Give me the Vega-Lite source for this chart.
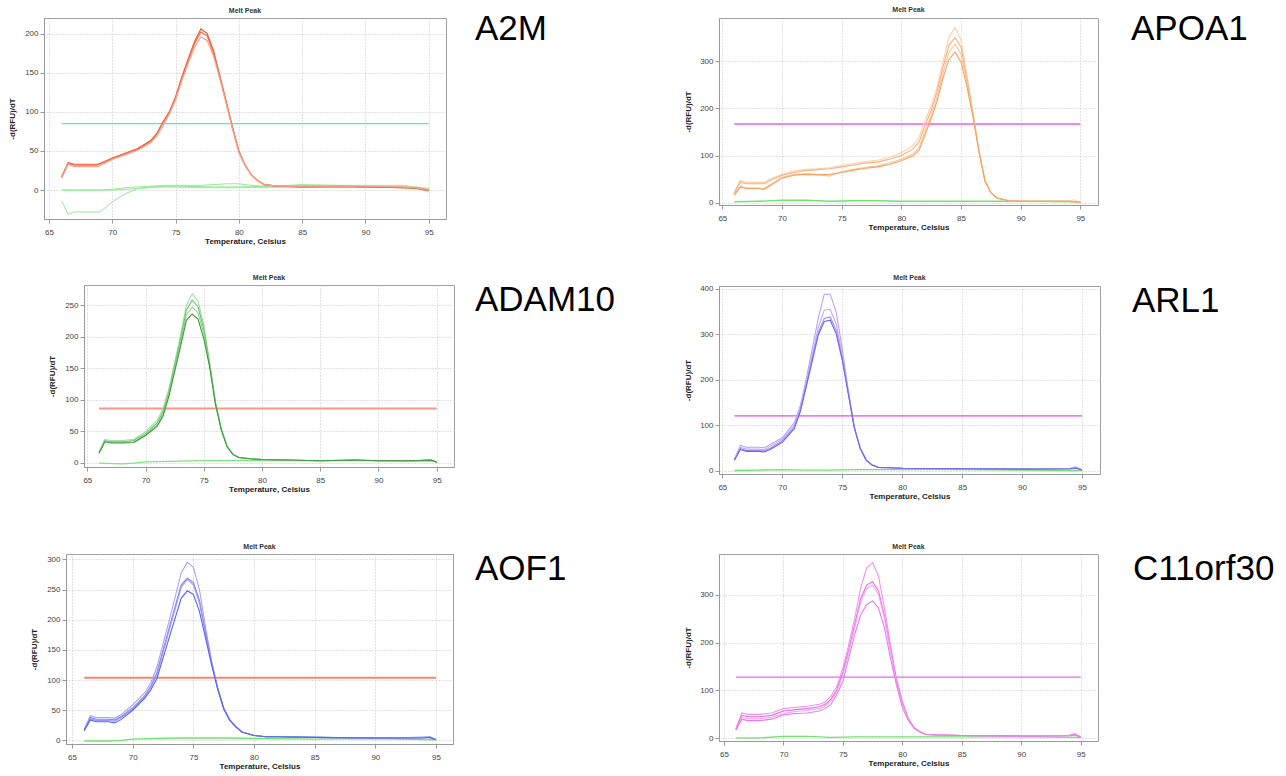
{
  "$schema": "https://vega.github.io/schema/vega-lite/v6.json",
  "padding": {"left": 0, "top": 5, "right": 0, "bottom": 0},
  "background": "white",
  "config": {
    "font": "Liberation Sans",
    "view": {"stroke": "#a0a0a0", "strokeWidth": 1},
    "title": {"fontSize": 7, "fontWeight": "bold", "color": "#333333", "offset": 4},
    "axis": {
      "labelFontSize": 8, "labelColor": "#444444", "titleFontSize": 8, "titleFontWeight": "bold",
      "titleColor": "#222222", "domainColor": "#999999", "tickColor": "#999999", "tickSize": 4,
      "gridColor": "#c4c4c4", "gridDash": [1, 2], "labelPadding": 2
    },
    "axisX": {"labelPadding": 5, "titlePadding": 1}
  },
  "datasets": {
    "A2M": [
      {"s":"a","t":66,"v":17},{"s":"a","t":66.5,"v":35},{"s":"a","t":67,"v":33},{"s":"a","t":68,"v":33},{"s":"a","t":68.8,"v":33},{"s":"a","t":69,"v":34},{"s":"a","t":70,"v":41},{"s":"a","t":71,"v":47},{"s":"a","t":72,"v":53},{"s":"a","t":73,"v":63},{"s":"a","t":73.5,"v":72},{"s":"a","t":74,"v":87},{"s":"a","t":74.5,"v":100},{"s":"a","t":75,"v":119},{"s":"a","t":75.5,"v":145},{"s":"a","t":76,"v":168},{"s":"a","t":76.5,"v":190},{"s":"a","t":77,"v":206},{"s":"a","t":77.5,"v":200},{"s":"a","t":78,"v":178},{"s":"a","t":78.5,"v":146},{"s":"a","t":79,"v":113},{"s":"a","t":79.5,"v":80},{"s":"a","t":80,"v":50},{"s":"a","t":80.5,"v":32},{"s":"a","t":81,"v":19},{"s":"a","t":81.5,"v":12},{"s":"a","t":82,"v":7},{"s":"a","t":83,"v":5},{"s":"a","t":85,"v":4},{"s":"a","t":88,"v":4},{"s":"a","t":90,"v":4},{"s":"a","t":93,"v":3},{"s":"a","t":94,"v":2},{"s":"a","t":95,"v":-1},
      {"s":"b","t":66,"v":16},{"s":"b","t":66.5,"v":34},{"s":"b","t":67,"v":32},{"s":"b","t":68,"v":32},{"s":"b","t":68.8,"v":32},{"s":"b","t":69,"v":33},{"s":"b","t":70,"v":40},{"s":"b","t":71,"v":46},{"s":"b","t":72,"v":52},{"s":"b","t":73,"v":62},{"s":"b","t":73.5,"v":71},{"s":"b","t":74,"v":86},{"s":"b","t":74.5,"v":99},{"s":"b","t":75,"v":118},{"s":"b","t":75.5,"v":143},{"s":"b","t":76,"v":166},{"s":"b","t":76.5,"v":187},{"s":"b","t":77,"v":202},{"s":"b","t":77.5,"v":197},{"s":"b","t":78,"v":175},{"s":"b","t":78.5,"v":144},{"s":"b","t":79,"v":112},{"s":"b","t":79.5,"v":79},{"s":"b","t":80,"v":49},{"s":"b","t":80.5,"v":31},{"s":"b","t":81,"v":19},{"s":"b","t":81.5,"v":12},{"s":"b","t":82,"v":7},{"s":"b","t":83,"v":5},{"s":"b","t":85,"v":4},{"s":"b","t":88,"v":5},{"s":"b","t":90,"v":4},{"s":"b","t":93,"v":3},{"s":"b","t":94,"v":3},{"s":"b","t":95,"v":0},
      {"s":"c","t":66,"v":15},{"s":"c","t":66.5,"v":33},{"s":"c","t":67,"v":30},{"s":"c","t":68,"v":30},{"s":"c","t":68.8,"v":30},{"s":"c","t":69,"v":31},{"s":"c","t":70,"v":39},{"s":"c","t":71,"v":45},{"s":"c","t":72,"v":51},{"s":"c","t":73,"v":60},{"s":"c","t":73.5,"v":69},{"s":"c","t":74,"v":82},{"s":"c","t":74.5,"v":97},{"s":"c","t":75,"v":115},{"s":"c","t":75.5,"v":140},{"s":"c","t":76,"v":162},{"s":"c","t":76.5,"v":183},{"s":"c","t":77,"v":196},{"s":"c","t":77.5,"v":191},{"s":"c","t":78,"v":171},{"s":"c","t":78.5,"v":142},{"s":"c","t":79,"v":110},{"s":"c","t":79.5,"v":78},{"s":"c","t":80,"v":48},{"s":"c","t":80.5,"v":31},{"s":"c","t":81,"v":19},{"s":"c","t":81.5,"v":12},{"s":"c","t":82,"v":7},{"s":"c","t":83,"v":5},{"s":"c","t":85,"v":5},{"s":"c","t":88,"v":5},{"s":"c","t":90,"v":5},{"s":"c","t":93,"v":4},{"s":"c","t":94,"v":3},{"s":"c","t":95,"v":0},
      {"s":"g1","t":66,"v":0},{"s":"g1","t":67,"v":0},{"s":"g1","t":69,"v":0},{"s":"g1","t":70,"v":1},{"s":"g1","t":71,"v":3},{"s":"g1","t":72,"v":4},{"s":"g1","t":73,"v":5},{"s":"g1","t":74,"v":6},{"s":"g1","t":76,"v":6},{"s":"g1","t":77,"v":6},{"s":"g1","t":78,"v":7},{"s":"g1","t":79,"v":8},{"s":"g1","t":80,"v":8},{"s":"g1","t":81,"v":6},{"s":"g1","t":82,"v":5},{"s":"g1","t":85,"v":6},{"s":"g1","t":88,"v":5},{"s":"g1","t":90,"v":4},{"s":"g1","t":93,"v":4},{"s":"g1","t":95,"v":1},
      {"s":"g2","t":66,"v":-14},{"s":"g2","t":66.5,"v":-31},{"s":"g2","t":67,"v":-28},{"s":"g2","t":68,"v":-28},{"s":"g2","t":69,"v":-28},{"s":"g2","t":69.5,"v":-22},{"s":"g2","t":70,"v":-15},{"s":"g2","t":71,"v":-5},{"s":"g2","t":72,"v":2},{"s":"g2","t":73,"v":4},{"s":"g2","t":75,"v":5},{"s":"g2","t":78,"v":4},{"s":"g2","t":80,"v":4},{"s":"g2","t":83,"v":5},{"s":"g2","t":85,"v":7},{"s":"g2","t":88,"v":6},{"s":"g2","t":91,"v":6},{"s":"g2","t":93,"v":6},{"s":"g2","t":94,"v":4},{"s":"g2","t":95,"v":2},
      {"s":"g3","t":66,"v":0},{"s":"g3","t":70,"v":0},{"s":"g3","t":74,"v":4},{"s":"g3","t":78,"v":3},{"s":"g3","t":80,"v":3},{"s":"g3","t":85,"v":4},{"s":"g3","t":90,"v":4},{"s":"g3","t":95,"v":2},
      {"s":"th","t":66,"t2":95,"v":85}
    ],
    "APOA1": [
      {"s":"a","t":66,"v":22},{"s":"a","t":66.5,"v":47},{"s":"a","t":67,"v":43},{"s":"a","t":68,"v":43},{"s":"a","t":68.5,"v":43},{"s":"a","t":69,"v":50},{"s":"a","t":70,"v":60},{"s":"a","t":71,"v":67},{"s":"a","t":72,"v":71},{"s":"a","t":73,"v":72},{"s":"a","t":74,"v":74},{"s":"a","t":75,"v":79},{"s":"a","t":76,"v":83},{"s":"a","t":77,"v":87},{"s":"a","t":78,"v":90},{"s":"a","t":79,"v":96},{"s":"a","t":80,"v":106},{"s":"a","t":81,"v":122},{"s":"a","t":81.5,"v":140},{"s":"a","t":82,"v":175},{"s":"a","t":82.5,"v":205},{"s":"a","t":83,"v":245},{"s":"a","t":83.5,"v":300},{"s":"a","t":84,"v":352},{"s":"a","t":84.5,"v":372},{"s":"a","t":85,"v":345},{"s":"a","t":85.5,"v":270},{"s":"a","t":86,"v":192},{"s":"a","t":86.5,"v":112},{"s":"a","t":87,"v":48},{"s":"a","t":87.5,"v":22},{"s":"a","t":88,"v":10},{"s":"a","t":89,"v":4},{"s":"a","t":90,"v":3},{"s":"a","t":92,"v":3},{"s":"a","t":94,"v":4},{"s":"a","t":94.5,"v":6},{"s":"a","t":95,"v":0},
      {"s":"b","t":66,"v":20},{"s":"b","t":66.5,"v":44},{"s":"b","t":67,"v":40},{"s":"b","t":68,"v":40},{"s":"b","t":68.5,"v":40},{"s":"b","t":69,"v":47},{"s":"b","t":70,"v":58},{"s":"b","t":71,"v":64},{"s":"b","t":72,"v":68},{"s":"b","t":73,"v":70},{"s":"b","t":74,"v":72},{"s":"b","t":75,"v":76},{"s":"b","t":76,"v":80},{"s":"b","t":77,"v":84},{"s":"b","t":78,"v":86},{"s":"b","t":79,"v":92},{"s":"b","t":80,"v":100},{"s":"b","t":81,"v":114},{"s":"b","t":81.5,"v":130},{"s":"b","t":82,"v":165},{"s":"b","t":82.5,"v":196},{"s":"b","t":83,"v":236},{"s":"b","t":83.5,"v":288},{"s":"b","t":84,"v":335},{"s":"b","t":84.5,"v":350},{"s":"b","t":85,"v":330},{"s":"b","t":85.5,"v":262},{"s":"b","t":86,"v":190},{"s":"b","t":86.5,"v":111},{"s":"b","t":87,"v":47},{"s":"b","t":87.5,"v":21},{"s":"b","t":88,"v":10},{"s":"b","t":89,"v":4},{"s":"b","t":90,"v":3},{"s":"b","t":92,"v":3},{"s":"b","t":94,"v":3},{"s":"b","t":95,"v":0},
      {"s":"c","t":66,"v":17},{"s":"c","t":66.5,"v":35},{"s":"c","t":67,"v":31},{"s":"c","t":68,"v":31},{"s":"c","t":68.5,"v":30},{"s":"c","t":69,"v":38},{"s":"c","t":70,"v":54},{"s":"c","t":71,"v":60},{"s":"c","t":72,"v":61},{"s":"c","t":73,"v":60},{"s":"c","t":74,"v":56},{"s":"c","t":75,"v":66},{"s":"c","t":76,"v":71},{"s":"c","t":77,"v":75},{"s":"c","t":78,"v":78},{"s":"c","t":79,"v":84},{"s":"c","t":80,"v":92},{"s":"c","t":81,"v":104},{"s":"c","t":81.5,"v":118},{"s":"c","t":82,"v":152},{"s":"c","t":82.5,"v":185},{"s":"c","t":83,"v":225},{"s":"c","t":83.5,"v":276},{"s":"c","t":84,"v":320},{"s":"c","t":84.5,"v":337},{"s":"c","t":85,"v":315},{"s":"c","t":85.5,"v":255},{"s":"c","t":86,"v":186},{"s":"c","t":86.5,"v":110},{"s":"c","t":87,"v":47},{"s":"c","t":87.5,"v":21},{"s":"c","t":88,"v":10},{"s":"c","t":89,"v":4},{"s":"c","t":90,"v":3},{"s":"c","t":92,"v":3},{"s":"c","t":94,"v":3},{"s":"c","t":95,"v":1},
      {"s":"d","t":66,"v":16},{"s":"d","t":66.5,"v":33},{"s":"d","t":67,"v":30},{"s":"d","t":68,"v":30},{"s":"d","t":68.5,"v":28},{"s":"d","t":69,"v":36},{"s":"d","t":70,"v":52},{"s":"d","t":71,"v":58},{"s":"d","t":72,"v":60},{"s":"d","t":73,"v":59},{"s":"d","t":74,"v":60},{"s":"d","t":75,"v":64},{"s":"d","t":76,"v":69},{"s":"d","t":77,"v":73},{"s":"d","t":78,"v":76},{"s":"d","t":79,"v":81},{"s":"d","t":80,"v":89},{"s":"d","t":81,"v":100},{"s":"d","t":81.5,"v":112},{"s":"d","t":82,"v":145},{"s":"d","t":82.5,"v":178},{"s":"d","t":83,"v":216},{"s":"d","t":83.5,"v":265},{"s":"d","t":84,"v":304},{"s":"d","t":84.5,"v":320},{"s":"d","t":85,"v":298},{"s":"d","t":85.5,"v":246},{"s":"d","t":86,"v":182},{"s":"d","t":86.5,"v":108},{"s":"d","t":87,"v":46},{"s":"d","t":87.5,"v":21},{"s":"d","t":88,"v":10},{"s":"d","t":89,"v":4},{"s":"d","t":90,"v":3},{"s":"d","t":92,"v":3},{"s":"d","t":94,"v":3},{"s":"d","t":95,"v":1},
      {"s":"g1","t":66,"v":2},{"s":"g1","t":68,"v":3},{"s":"g1","t":70,"v":5},{"s":"g1","t":72,"v":5},{"s":"g1","t":74,"v":3},{"s":"g1","t":76,"v":4},{"s":"g1","t":78,"v":4},{"s":"g1","t":80,"v":3},{"s":"g1","t":85,"v":3},{"s":"g1","t":90,"v":3},{"s":"g1","t":95,"v":2},
      {"s":"th","t":66,"t2":95,"v":167}
    ],
    "ADAM10": [
      {"s":"a","t":66,"v":17},{"s":"a","t":66.5,"v":37},{"s":"a","t":67,"v":35},{"s":"a","t":68,"v":35},{"s":"a","t":69,"v":37},{"s":"a","t":70,"v":49},{"s":"a","t":71,"v":67},{"s":"a","t":71.5,"v":86},{"s":"a","t":72,"v":117},{"s":"a","t":73,"v":202},{"s":"a","t":73.5,"v":250},{"s":"a","t":74,"v":268},{"s":"a","t":74.5,"v":257},{"s":"a","t":75,"v":218},{"s":"a","t":75.5,"v":160},{"s":"a","t":76,"v":96},{"s":"a","t":76.5,"v":54},{"s":"a","t":77,"v":26},{"s":"a","t":77.5,"v":13},{"s":"a","t":78,"v":8},{"s":"a","t":79,"v":6},{"s":"a","t":80,"v":5},{"s":"a","t":82,"v":4},{"s":"a","t":85,"v":3},{"s":"a","t":88,"v":4},{"s":"a","t":90,"v":3},{"s":"a","t":93,"v":3},{"s":"a","t":94.5,"v":5},{"s":"a","t":95,"v":0},
      {"s":"b","t":66,"v":16},{"s":"b","t":66.5,"v":35},{"s":"b","t":67,"v":33},{"s":"b","t":68,"v":33},{"s":"b","t":69,"v":35},{"s":"b","t":70,"v":46},{"s":"b","t":71,"v":63},{"s":"b","t":71.5,"v":81},{"s":"b","t":72,"v":112},{"s":"b","t":73,"v":196},{"s":"b","t":73.5,"v":242},{"s":"b","t":74,"v":258},{"s":"b","t":74.5,"v":248},{"s":"b","t":75,"v":212},{"s":"b","t":75.5,"v":157},{"s":"b","t":76,"v":95},{"s":"b","t":76.5,"v":53},{"s":"b","t":77,"v":26},{"s":"b","t":77.5,"v":13},{"s":"b","t":78,"v":8},{"s":"b","t":79,"v":6},{"s":"b","t":80,"v":5},{"s":"b","t":82,"v":4},{"s":"b","t":85,"v":3},{"s":"b","t":88,"v":4},{"s":"b","t":90,"v":3},{"s":"b","t":93,"v":3},{"s":"b","t":94.5,"v":4},{"s":"b","t":95,"v":0},
      {"s":"c","t":66,"v":15},{"s":"c","t":66.5,"v":33},{"s":"c","t":67,"v":32},{"s":"c","t":68,"v":32},{"s":"c","t":69,"v":33},{"s":"c","t":70,"v":44},{"s":"c","t":71,"v":60},{"s":"c","t":71.5,"v":77},{"s":"c","t":72,"v":108},{"s":"c","t":73,"v":190},{"s":"c","t":73.5,"v":234},{"s":"c","t":74,"v":247},{"s":"c","t":74.5,"v":238},{"s":"c","t":75,"v":205},{"s":"c","t":75.5,"v":155},{"s":"c","t":76,"v":94},{"s":"c","t":76.5,"v":53},{"s":"c","t":77,"v":26},{"s":"c","t":77.5,"v":13},{"s":"c","t":78,"v":8},{"s":"c","t":79,"v":6},{"s":"c","t":80,"v":5},{"s":"c","t":82,"v":4},{"s":"c","t":85,"v":3},{"s":"c","t":88,"v":4},{"s":"c","t":90,"v":3},{"s":"c","t":93,"v":3},{"s":"c","t":94.5,"v":4},{"s":"c","t":95,"v":1},
      {"s":"d","t":66,"v":15},{"s":"d","t":66.5,"v":33},{"s":"d","t":67,"v":31},{"s":"d","t":68,"v":31},{"s":"d","t":69,"v":32},{"s":"d","t":70,"v":43},{"s":"d","t":71,"v":58},{"s":"d","t":71.5,"v":74},{"s":"d","t":72,"v":105},{"s":"d","t":73,"v":184},{"s":"d","t":73.5,"v":226},{"s":"d","t":74,"v":236},{"s":"d","t":74.5,"v":228},{"s":"d","t":75,"v":197},{"s":"d","t":75.5,"v":152},{"s":"d","t":76,"v":93},{"s":"d","t":76.5,"v":52},{"s":"d","t":77,"v":25},{"s":"d","t":77.5,"v":13},{"s":"d","t":78,"v":8},{"s":"d","t":79,"v":6},{"s":"d","t":80,"v":5},{"s":"d","t":82,"v":4},{"s":"d","t":85,"v":3},{"s":"d","t":88,"v":4},{"s":"d","t":90,"v":3},{"s":"d","t":93,"v":3},{"s":"d","t":94.5,"v":4},{"s":"d","t":95,"v":1},
      {"s":"g1","t":66,"v":-1},{"s":"g1","t":68,"v":-2},{"s":"g1","t":69,"v":-1},{"s":"g1","t":70,"v":1},{"s":"g1","t":72,"v":2},{"s":"g1","t":75,"v":3},{"s":"g1","t":78,"v":3},{"s":"g1","t":80,"v":3},{"s":"g1","t":85,"v":3},{"s":"g1","t":90,"v":3},{"s":"g1","t":95,"v":2},
      {"s":"th","t":66,"t2":95,"v":86}
    ],
    "ARL1": [
      {"s":"a","t":66,"v":26},{"s":"a","t":66.5,"v":56},{"s":"a","t":67,"v":52},{"s":"a","t":68,"v":52},{"s":"a","t":68.5,"v":51},{"s":"a","t":69,"v":58},{"s":"a","t":70,"v":73},{"s":"a","t":71,"v":106},{"s":"a","t":71.5,"v":143},{"s":"a","t":72,"v":202},{"s":"a","t":73,"v":335},{"s":"a","t":73.5,"v":388},{"s":"a","t":74,"v":388},{"s":"a","t":74.5,"v":348},{"s":"a","t":75,"v":268},{"s":"a","t":75.5,"v":178},{"s":"a","t":76,"v":98},{"s":"a","t":76.5,"v":50},{"s":"a","t":77,"v":24},{"s":"a","t":77.5,"v":13},{"s":"a","t":78,"v":8},{"s":"a","t":79,"v":7},{"s":"a","t":80,"v":6},{"s":"a","t":85,"v":5},{"s":"a","t":90,"v":4},{"s":"a","t":94,"v":6},{"s":"a","t":94.5,"v":9},{"s":"a","t":95,"v":3},
      {"s":"b","t":66,"v":25},{"s":"b","t":66.5,"v":52},{"s":"b","t":67,"v":48},{"s":"b","t":68,"v":48},{"s":"b","t":68.5,"v":47},{"s":"b","t":69,"v":54},{"s":"b","t":70,"v":69},{"s":"b","t":71,"v":100},{"s":"b","t":71.5,"v":137},{"s":"b","t":72,"v":194},{"s":"b","t":73,"v":315},{"s":"b","t":73.5,"v":353},{"s":"b","t":74,"v":355},{"s":"b","t":74.5,"v":322},{"s":"b","t":75,"v":255},{"s":"b","t":75.5,"v":174},{"s":"b","t":76,"v":97},{"s":"b","t":76.5,"v":50},{"s":"b","t":77,"v":24},{"s":"b","t":77.5,"v":13},{"s":"b","t":78,"v":8},{"s":"b","t":79,"v":7},{"s":"b","t":80,"v":6},{"s":"b","t":85,"v":5},{"s":"b","t":90,"v":4},{"s":"b","t":94,"v":5},{"s":"b","t":94.5,"v":7},{"s":"b","t":95,"v":2},
      {"s":"c","t":66,"v":24},{"s":"c","t":66.5,"v":49},{"s":"c","t":67,"v":45},{"s":"c","t":68,"v":45},{"s":"c","t":68.5,"v":44},{"s":"c","t":69,"v":50},{"s":"c","t":70,"v":66},{"s":"c","t":71,"v":96},{"s":"c","t":71.5,"v":133},{"s":"c","t":72,"v":189},{"s":"c","t":73,"v":304},{"s":"c","t":73.5,"v":335},{"s":"c","t":74,"v":338},{"s":"c","t":74.5,"v":308},{"s":"c","t":75,"v":248},{"s":"c","t":75.5,"v":172},{"s":"c","t":76,"v":96},{"s":"c","t":76.5,"v":50},{"s":"c","t":77,"v":24},{"s":"c","t":77.5,"v":13},{"s":"c","t":78,"v":8},{"s":"c","t":79,"v":7},{"s":"c","t":80,"v":6},{"s":"c","t":85,"v":5},{"s":"c","t":90,"v":4},{"s":"c","t":94,"v":5},{"s":"c","t":94.5,"v":7},{"s":"c","t":95,"v":2},
      {"s":"d","t":66,"v":23},{"s":"d","t":66.5,"v":47},{"s":"d","t":67,"v":43},{"s":"d","t":68,"v":43},{"s":"d","t":68.5,"v":42},{"s":"d","t":69,"v":47},{"s":"d","t":70,"v":63},{"s":"d","t":71,"v":93},{"s":"d","t":71.5,"v":130},{"s":"d","t":72,"v":185},{"s":"d","t":73,"v":298},{"s":"d","t":73.5,"v":328},{"s":"d","t":74,"v":331},{"s":"d","t":74.5,"v":301},{"s":"d","t":75,"v":243},{"s":"d","t":75.5,"v":170},{"s":"d","t":76,"v":95},{"s":"d","t":76.5,"v":49},{"s":"d","t":77,"v":24},{"s":"d","t":77.5,"v":13},{"s":"d","t":78,"v":8},{"s":"d","t":79,"v":7},{"s":"d","t":80,"v":6},{"s":"d","t":85,"v":5},{"s":"d","t":90,"v":4},{"s":"d","t":94,"v":5},{"s":"d","t":94.5,"v":6},{"s":"d","t":95,"v":2},
      {"s":"g1","t":66,"v":1},{"s":"g1","t":68,"v":2},{"s":"g1","t":70,"v":3},{"s":"g1","t":72,"v":2},{"s":"g1","t":74,"v":2},{"s":"g1","t":76,"v":3},{"s":"g1","t":80,"v":3},{"s":"g1","t":85,"v":3},{"s":"g1","t":90,"v":2},{"s":"g1","t":95,"v":1},
      {"s":"th","t":66,"t2":95,"v":121}
    ],
    "AOF1": [
      {"s":"a","t":66,"v":18},{"s":"a","t":66.5,"v":41},{"s":"a","t":67,"v":38},{"s":"a","t":68,"v":38},{"s":"a","t":68.5,"v":37},{"s":"a","t":69,"v":42},{"s":"a","t":70,"v":59},{"s":"a","t":71,"v":79},{"s":"a","t":71.5,"v":96},{"s":"a","t":72,"v":122},{"s":"a","t":73,"v":198},{"s":"a","t":74,"v":278},{"s":"a","t":74.5,"v":295},{"s":"a","t":75,"v":287},{"s":"a","t":75.5,"v":250},{"s":"a","t":76,"v":188},{"s":"a","t":76.5,"v":132},{"s":"a","t":77,"v":88},{"s":"a","t":77.5,"v":54},{"s":"a","t":78,"v":34},{"s":"a","t":78.5,"v":23},{"s":"a","t":79,"v":14},{"s":"a","t":80,"v":8},{"s":"a","t":81,"v":6},{"s":"a","t":82,"v":6},{"s":"a","t":85,"v":5},{"s":"a","t":90,"v":4},{"s":"a","t":94,"v":5},{"s":"a","t":94.5,"v":6},{"s":"a","t":95,"v":1},
      {"s":"b","t":66,"v":17},{"s":"b","t":66.5,"v":38},{"s":"b","t":67,"v":35},{"s":"b","t":68,"v":35},{"s":"b","t":68.5,"v":34},{"s":"b","t":69,"v":39},{"s":"b","t":70,"v":54},{"s":"b","t":71,"v":74},{"s":"b","t":71.5,"v":90},{"s":"b","t":72,"v":113},{"s":"b","t":73,"v":186},{"s":"b","t":74,"v":258},{"s":"b","t":74.5,"v":269},{"s":"b","t":75,"v":262},{"s":"b","t":75.5,"v":232},{"s":"b","t":76,"v":180},{"s":"b","t":76.5,"v":129},{"s":"b","t":77,"v":87},{"s":"b","t":77.5,"v":53},{"s":"b","t":78,"v":34},{"s":"b","t":78.5,"v":23},{"s":"b","t":79,"v":14},{"s":"b","t":80,"v":8},{"s":"b","t":81,"v":6},{"s":"b","t":82,"v":6},{"s":"b","t":85,"v":5},{"s":"b","t":90,"v":4},{"s":"b","t":94,"v":5},{"s":"b","t":94.5,"v":5},{"s":"b","t":95,"v":1},
      {"s":"c","t":66,"v":16},{"s":"c","t":66.5,"v":36},{"s":"c","t":67,"v":33},{"s":"c","t":68,"v":33},{"s":"c","t":68.5,"v":32},{"s":"c","t":69,"v":37},{"s":"c","t":70,"v":52},{"s":"c","t":71,"v":72},{"s":"c","t":71.5,"v":88},{"s":"c","t":72,"v":110},{"s":"c","t":73,"v":182},{"s":"c","t":74,"v":254},{"s":"c","t":74.5,"v":267},{"s":"c","t":75,"v":258},{"s":"c","t":75.5,"v":228},{"s":"c","t":76,"v":177},{"s":"c","t":76.5,"v":128},{"s":"c","t":77,"v":86},{"s":"c","t":77.5,"v":53},{"s":"c","t":78,"v":34},{"s":"c","t":78.5,"v":23},{"s":"c","t":79,"v":14},{"s":"c","t":80,"v":8},{"s":"c","t":81,"v":6},{"s":"c","t":82,"v":6},{"s":"c","t":85,"v":5},{"s":"c","t":90,"v":4},{"s":"c","t":94,"v":5},{"s":"c","t":94.5,"v":5},{"s":"c","t":95,"v":1},
      {"s":"d","t":66,"v":16},{"s":"d","t":66.5,"v":34},{"s":"d","t":67,"v":31},{"s":"d","t":68,"v":31},{"s":"d","t":68.5,"v":29},{"s":"d","t":69,"v":34},{"s":"d","t":70,"v":50},{"s":"d","t":71,"v":70},{"s":"d","t":71.5,"v":84},{"s":"d","t":72,"v":103},{"s":"d","t":73,"v":170},{"s":"d","t":74,"v":236},{"s":"d","t":74.5,"v":248},{"s":"d","t":75,"v":242},{"s":"d","t":75.5,"v":214},{"s":"d","t":76,"v":170},{"s":"d","t":76.5,"v":125},{"s":"d","t":77,"v":85},{"s":"d","t":77.5,"v":52},{"s":"d","t":78,"v":33},{"s":"d","t":78.5,"v":22},{"s":"d","t":79,"v":14},{"s":"d","t":80,"v":8},{"s":"d","t":81,"v":6},{"s":"d","t":82,"v":6},{"s":"d","t":85,"v":5},{"s":"d","t":90,"v":4},{"s":"d","t":94,"v":4},{"s":"d","t":94.5,"v":5},{"s":"d","t":95,"v":1},
      {"s":"g1","t":66,"v":-1},{"s":"g1","t":68,"v":-1},{"s":"g1","t":69,"v":0},{"s":"g1","t":70,"v":2},{"s":"g1","t":72,"v":3},{"s":"g1","t":74,"v":4},{"s":"g1","t":76,"v":4},{"s":"g1","t":78,"v":4},{"s":"g1","t":80,"v":3},{"s":"g1","t":85,"v":2},{"s":"g1","t":90,"v":3},{"s":"g1","t":95,"v":1},
      {"s":"th","t":66,"t2":95,"v":104}
    ],
    "C11orf30": [
      {"s":"a","t":66,"v":20},{"s":"a","t":66.5,"v":53},{"s":"a","t":67,"v":50},{"s":"a","t":68,"v":50},{"s":"a","t":69,"v":53},{"s":"a","t":70,"v":62},{"s":"a","t":71,"v":65},{"s":"a","t":72,"v":67},{"s":"a","t":73,"v":71},{"s":"a","t":73.5,"v":76},{"s":"a","t":74,"v":88},{"s":"a","t":74.5,"v":109},{"s":"a","t":75,"v":147},{"s":"a","t":75.5,"v":196},{"s":"a","t":76,"v":251},{"s":"a","t":76.5,"v":314},{"s":"a","t":77,"v":356},{"s":"a","t":77.5,"v":367},{"s":"a","t":78,"v":338},{"s":"a","t":78.5,"v":272},{"s":"a","t":79,"v":196},{"s":"a","t":79.5,"v":126},{"s":"a","t":80,"v":78},{"s":"a","t":80.5,"v":42},{"s":"a","t":81,"v":22},{"s":"a","t":81.5,"v":13},{"s":"a","t":82,"v":8},{"s":"a","t":83,"v":7},{"s":"a","t":85,"v":6},{"s":"a","t":90,"v":5},{"s":"a","t":94,"v":6},{"s":"a","t":94.5,"v":10},{"s":"a","t":95,"v":3},
      {"s":"b","t":66,"v":19},{"s":"b","t":66.5,"v":48},{"s":"b","t":67,"v":45},{"s":"b","t":68,"v":45},{"s":"b","t":69,"v":48},{"s":"b","t":70,"v":57},{"s":"b","t":71,"v":60},{"s":"b","t":72,"v":62},{"s":"b","t":73,"v":66},{"s":"b","t":73.5,"v":71},{"s":"b","t":74,"v":82},{"s":"b","t":74.5,"v":102},{"s":"b","t":75,"v":138},{"s":"b","t":75.5,"v":186},{"s":"b","t":76,"v":238},{"s":"b","t":76.5,"v":292},{"s":"b","t":77,"v":320},{"s":"b","t":77.5,"v":327},{"s":"b","t":78,"v":308},{"s":"b","t":78.5,"v":255},{"s":"b","t":79,"v":187},{"s":"b","t":79.5,"v":121},{"s":"b","t":80,"v":74},{"s":"b","t":80.5,"v":41},{"s":"b","t":81,"v":22},{"s":"b","t":81.5,"v":13},{"s":"b","t":82,"v":8},{"s":"b","t":83,"v":7},{"s":"b","t":85,"v":6},{"s":"b","t":90,"v":5},{"s":"b","t":94,"v":6},{"s":"b","t":94.5,"v":8},{"s":"b","t":95,"v":3},
      {"s":"c","t":66,"v":18},{"s":"c","t":66.5,"v":44},{"s":"c","t":67,"v":41},{"s":"c","t":68,"v":41},{"s":"c","t":69,"v":44},{"s":"c","t":70,"v":52},{"s":"c","t":71,"v":56},{"s":"c","t":72,"v":58},{"s":"c","t":73,"v":62},{"s":"c","t":73.5,"v":67},{"s":"c","t":74,"v":78},{"s":"c","t":74.5,"v":98},{"s":"c","t":75,"v":132},{"s":"c","t":75.5,"v":180},{"s":"c","t":76,"v":232},{"s":"c","t":76.5,"v":285},{"s":"c","t":77,"v":313},{"s":"c","t":77.5,"v":320},{"s":"c","t":78,"v":300},{"s":"c","t":78.5,"v":250},{"s":"c","t":79,"v":183},{"s":"c","t":79.5,"v":118},{"s":"c","t":80,"v":72},{"s":"c","t":80.5,"v":40},{"s":"c","t":81,"v":21},{"s":"c","t":81.5,"v":13},{"s":"c","t":82,"v":8},{"s":"c","t":83,"v":7},{"s":"c","t":85,"v":6},{"s":"c","t":90,"v":5},{"s":"c","t":94,"v":6},{"s":"c","t":94.5,"v":7},{"s":"c","t":95,"v":3},
      {"s":"d","t":66,"v":17},{"s":"d","t":66.5,"v":40},{"s":"d","t":67,"v":37},{"s":"d","t":68,"v":37},{"s":"d","t":69,"v":40},{"s":"d","t":70,"v":49},{"s":"d","t":71,"v":52},{"s":"d","t":72,"v":53},{"s":"d","t":73,"v":57},{"s":"d","t":73.5,"v":62},{"s":"d","t":74,"v":71},{"s":"d","t":74.5,"v":92},{"s":"d","t":75,"v":119},{"s":"d","t":75.5,"v":168},{"s":"d","t":76,"v":217},{"s":"d","t":76.5,"v":258},{"s":"d","t":77,"v":279},{"s":"d","t":77.5,"v":287},{"s":"d","t":78,"v":272},{"s":"d","t":78.5,"v":230},{"s":"d","t":79,"v":168},{"s":"d","t":79.5,"v":112},{"s":"d","t":80,"v":64},{"s":"d","t":80.5,"v":38},{"s":"d","t":81,"v":21},{"s":"d","t":81.5,"v":13},{"s":"d","t":82,"v":8},{"s":"d","t":83,"v":7},{"s":"d","t":85,"v":6},{"s":"d","t":90,"v":5},{"s":"d","t":94,"v":5},{"s":"d","t":94.5,"v":7},{"s":"d","t":95,"v":3},
      {"s":"g1","t":66,"v":1},{"s":"g1","t":68,"v":1},{"s":"g1","t":70,"v":4},{"s":"g1","t":72,"v":4},{"s":"g1","t":74,"v":2},{"s":"g1","t":76,"v":3},{"s":"g1","t":78,"v":3},{"s":"g1","t":80,"v":3},{"s":"g1","t":85,"v":3},{"s":"g1","t":90,"v":3},{"s":"g1","t":95,"v":2},
      {"s":"th","t":66,"t2":95,"v":128}
    ]
  },
  "hconcat": [
    {
      "vconcat": [
        {
          "vconcat": [
            {
              "hconcat": [
                {"width": 8, "height": 1, "view": {"stroke": null}, "data": {"values": []}, "mark": "point"},
                {
                  "title": "Melt Peak",
                  "width": 402, "height": 201,
                  "data": {"name": "A2M"},
                  "encoding": {
                    "x": {"field": "t", "type": "quantitative", "scale": {"domain": [64.6, 96.37], "nice": false, "zero": false}, "axis": {"values": [65, 70, 75, 80, 85, 90, 95], "title": "Temperature, Celsius"}},
                    "y": {"field": "v", "type": "quantitative", "scale": {"domain": [-37, 220], "nice": false, "zero": false}, "axis": {"values": [0, 50, 100, 150, 200], "title": "-d(RFU)/dT", "titlePadding": 8}}
                  },
                  "layer": [
                    {"transform": [{"filter": {"field": "s", "oneOf": ["g1", "g2", "g3"]}}], "mark": {"type": "line", "clip": true, "color": "#96ea96", "strokeWidth": 1}, "encoding": {"detail": {"field": "s"}}},
                    {"transform": [{"filter": {"field": "s", "equal": "th"}}], "mark": {"type": "rule", "clip": true, "color": "#4de6ee", "strokeWidth": 1.4}, "encoding": {"x2": {"field": "t2"}}},
                    {"transform": [{"filter": {"field": "s", "oneOf": ["a", "b", "c"]}}], "mark": {"type": "line", "clip": true, "strokeWidth": 1.2}, "encoding": {"color": {"field": "s", "type": "nominal", "scale": {"domain": ["a", "b", "c"], "range": ["#ec5a38", "#f07050", "#f7a48c"]}, "legend": null}}}
                  ]
                },
                {
                  "width": 56, "height": 44, "view": {"stroke": null},
                  "data": {"values": [{"g": "A2M"}]},
                  "mark": {"type": "text", "align": "left", "baseline": "alphabetic", "fontSize": 35, "font": "Liberation Sans", "color": "#000000"},
                  "encoding": {"text": {"field": "g"}}
                }
              ],
              "spacing": 0
            },
            {
              "hconcat": [
                {"width": 48, "height": 1, "view": {"stroke": null}, "data": {"values": []}, "mark": "point"},
                {
                  "title": "Melt Peak",
                  "width": 370, "height": 182,
                  "data": {"name": "ADAM10"},
                  "encoding": {
                    "x": {"field": "t", "type": "quantitative", "scale": {"domain": [64.71, 96.49], "nice": false, "zero": false}, "axis": {"values": [65, 70, 75, 80, 85, 90, 95], "title": "Temperature, Celsius"}},
                    "y": {"field": "v", "type": "quantitative", "scale": {"domain": [-7, 282], "nice": false, "zero": false}, "axis": {"values": [0, 50, 100, 150, 200, 250], "title": "-d(RFU)/dT", "titlePadding": 8}}
                  },
                  "layer": [
                    {"transform": [{"filter": {"field": "s", "oneOf": ["g1"]}}], "mark": {"type": "line", "clip": true, "color": "#7fe47f", "strokeWidth": 1.2}, "encoding": {"detail": {"field": "s"}}},
                    {"transform": [{"filter": {"field": "s", "equal": "th"}}], "mark": {"type": "rule", "clip": true, "color": "#f8968a", "strokeWidth": 2}, "encoding": {"x2": {"field": "t2"}}},
                    {"transform": [{"filter": {"field": "s", "oneOf": ["a", "b", "c", "d"]}}], "mark": {"type": "line", "clip": true, "strokeWidth": 1.1}, "encoding": {"color": {"field": "s", "type": "nominal", "scale": {"domain": ["a", "b", "c", "d"], "range": ["#a4dca4", "#6cc06c", "#90d290", "#3a9a3a"]}, "legend": null}}}
                  ]
                },
                {
                  "width": 40, "height": 51, "view": {"stroke": null},
                  "data": {"values": [{"g": "ADAM10"}]},
                  "mark": {"type": "text", "align": "left", "baseline": "alphabetic", "fontSize": 35, "font": "Liberation Sans", "color": "#000000"},
                  "encoding": {"text": {"field": "g"}}
                }
              ],
              "spacing": 0
            }
          ],
          "spacing": 27,
          "resolve": {"scale": {"color": "independent"}}
        },
        {
          "hconcat": [
            {"width": 30, "height": 1, "view": {"stroke": null}, "data": {"values": []}, "mark": "point"},
            {
              "title": "Melt Peak",
              "width": 387, "height": 190,
              "data": {"name": "AOF1"},
              "encoding": {
                "x": {"field": "t", "type": "quantitative", "scale": {"domain": [64.5, 96.4], "nice": false, "zero": false}, "axis": {"values": [65, 70, 75, 80, 85, 90, 95], "title": "Temperature, Celsius"}},
                "y": {"field": "v", "type": "quantitative", "scale": {"domain": [-6, 309], "nice": false, "zero": false}, "axis": {"values": [0, 50, 100, 150, 200, 250, 300], "title": "-d(RFU)/dT", "titlePadding": 8}}
              },
              "layer": [
                {"transform": [{"filter": {"field": "s", "oneOf": ["g1"]}}], "mark": {"type": "line", "clip": true, "color": "#6fe46f", "strokeWidth": 1.4}, "encoding": {"detail": {"field": "s"}}},
                {"transform": [{"filter": {"field": "s", "equal": "th"}}], "mark": {"type": "rule", "clip": true, "color": "#f8846e", "strokeWidth": 2}, "encoding": {"x2": {"field": "t2"}}},
                {"transform": [{"filter": {"field": "s", "oneOf": ["a", "b", "c", "d"]}}], "mark": {"type": "line", "clip": true, "strokeWidth": 1.1}, "encoding": {"color": {"field": "s", "type": "nominal", "scale": {"domain": ["a", "b", "c", "d"], "range": ["#aaa2f6", "#7c82f0", "#9e96f4", "#5566ea"]}, "legend": null}}}
              ]
            },
            {
              "width": 42, "height": 51, "view": {"stroke": null},
              "data": {"values": [{"g": "AOF1"}]},
              "mark": {"type": "text", "align": "left", "baseline": "alphabetic", "fontSize": 35, "font": "Liberation Sans", "color": "#000000"},
              "encoding": {"text": {"field": "g"}}
            }
          ],
          "spacing": 0
        }
      ],
      "spacing": 48,
      "resolve": {"scale": {"color": "independent"}}
    },
    {
      "vconcat": [
        {
          "hconcat": [
            {
              "title": {"text": "Melt Peak", "offset": 5},
              "width": 379, "height": 187,
              "data": {"name": "APOA1"},
              "encoding": {
                "x": {"field": "t", "type": "quantitative", "scale": {"domain": [64.72, 96.48], "nice": false, "zero": false}, "axis": {"values": [65, 70, 75, 80, 85, 90, 95], "title": "Temperature, Celsius"}},
                "y": {"field": "v", "type": "quantitative", "scale": {"domain": [-5, 392], "nice": false, "zero": false}, "axis": {"values": [0, 100, 200, 300], "title": "-d(RFU)/dT", "titlePadding": 7}}
              },
              "layer": [
                {"transform": [{"filter": {"field": "s", "oneOf": ["g1"]}}], "mark": {"type": "line", "clip": true, "color": "#6fe46f", "strokeWidth": 1.4}, "encoding": {"detail": {"field": "s"}}},
                {"transform": [{"filter": {"field": "s", "equal": "th"}}], "mark": {"type": "rule", "clip": true, "color": "#e860e8", "strokeWidth": 1.3}, "encoding": {"x2": {"field": "t2"}}},
                {"transform": [{"filter": {"field": "s", "oneOf": ["a", "b", "c", "d"]}}], "mark": {"type": "line", "clip": true, "strokeWidth": 1.1}, "encoding": {"color": {"field": "s", "type": "nominal", "scale": {"domain": ["a", "b", "c", "d"], "range": ["#fcd0a8", "#f8b07c", "#fac49a", "#f6a060"]}, "legend": null}}}
              ]
            },
            {
              "width": 2, "height": 44, "view": {"stroke": null},
              "data": {"values": [{"g": "APOA1"}]},
              "mark": {"type": "text", "align": "left", "baseline": "alphabetic", "fontSize": 35, "font": "Liberation Sans", "color": "#000000"},
              "encoding": {"text": {"field": "g"}}
            }
          ],
          "spacing": 31
        },
        {
          "hconcat": [
            {
              "title": "Melt Peak",
              "width": 381, "height": 188,
              "data": {"name": "ARL1"},
              "encoding": {
                "x": {"field": "t", "type": "quantitative", "scale": {"domain": [64.72, 96.5], "nice": false, "zero": false}, "axis": {"values": [65, 70, 75, 80, 85, 90, 95], "title": "Temperature, Celsius"}},
                "y": {"field": "v", "type": "quantitative", "scale": {"domain": [-6.6, 406], "nice": false, "zero": false}, "axis": {"values": [0, 100, 200, 300, 400], "title": "-d(RFU)/dT", "titlePadding": 7}}
              },
              "layer": [
                {"transform": [{"filter": {"field": "s", "oneOf": ["g1"]}}], "mark": {"type": "line", "clip": true, "color": "#6fe46f", "strokeWidth": 1.4}, "encoding": {"detail": {"field": "s"}}},
                {"transform": [{"filter": {"field": "s", "equal": "th"}}], "mark": {"type": "rule", "clip": true, "color": "#e050f0", "strokeWidth": 1.3}, "encoding": {"x2": {"field": "t2"}}},
                {"transform": [{"filter": {"field": "s", "oneOf": ["a", "b", "c", "d"]}}], "mark": {"type": "line", "clip": true, "strokeWidth": 1.1}, "encoding": {"color": {"field": "s", "type": "nominal", "scale": {"domain": ["a", "b", "c", "d"], "range": ["#b8a2f5", "#c4aaf7", "#a48cf0", "#7266ee"]}, "legend": null}}}
              ]
            },
            {
              "width": 2, "height": 51, "view": {"stroke": null},
              "data": {"values": [{"g": "ARL1"}]},
              "mark": {"type": "text", "align": "left", "baseline": "alphabetic", "fontSize": 35, "font": "Liberation Sans", "color": "#000000"},
              "encoding": {"text": {"field": "g"}}
            }
          ],
          "spacing": 30
        },
        {
          "hconcat": [
            {
              "title": "Melt Peak",
              "width": 379, "height": 187,
              "data": {"name": "C11orf30"},
              "encoding": {
                "x": {"field": "t", "type": "quantitative", "scale": {"domain": [64.58, 96.46], "nice": false, "zero": false}, "axis": {"values": [65, 70, 75, 80, 85, 90, 95], "title": "Temperature, Celsius"}},
                "y": {"field": "v", "type": "quantitative", "scale": {"domain": [-5.6, 385], "nice": false, "zero": false}, "axis": {"values": [0, 100, 200, 300], "title": "-d(RFU)/dT", "titlePadding": 7}}
              },
              "layer": [
                {"transform": [{"filter": {"field": "s", "oneOf": ["g1"]}}], "mark": {"type": "line", "clip": true, "color": "#6fe46f", "strokeWidth": 1.4}, "encoding": {"detail": {"field": "s"}}},
                {"transform": [{"filter": {"field": "s", "equal": "th"}}], "mark": {"type": "rule", "clip": true, "color": "#e468ea", "strokeWidth": 1.3}, "encoding": {"x2": {"field": "t2"}}},
                {"transform": [{"filter": {"field": "s", "oneOf": ["a", "b", "c", "d"]}}], "mark": {"type": "line", "clip": true, "strokeWidth": 1.1}, "encoding": {"color": {"field": "s", "type": "nominal", "scale": {"domain": ["a", "b", "c", "d"], "range": ["#f292f0", "#e66ae6", "#f0a4f0", "#e27eea"]}, "legend": null}}}
              ]
            },
            {
              "width": 2, "height": 51, "view": {"stroke": null},
              "data": {"values": [{"g": "C11orf30"}]},
              "mark": {"type": "text", "align": "left", "baseline": "alphabetic", "fontSize": 35, "font": "Liberation Sans", "color": "#000000"},
              "encoding": {"text": {"field": "g"}}
            }
          ],
          "spacing": 33
        }
      ],
      "spacing": 41,
      "resolve": {"scale": {"color": "independent"}}
    }
  ],
  "spacing": 68,
  "resolve": {"scale": {"color": "independent"}}
}
